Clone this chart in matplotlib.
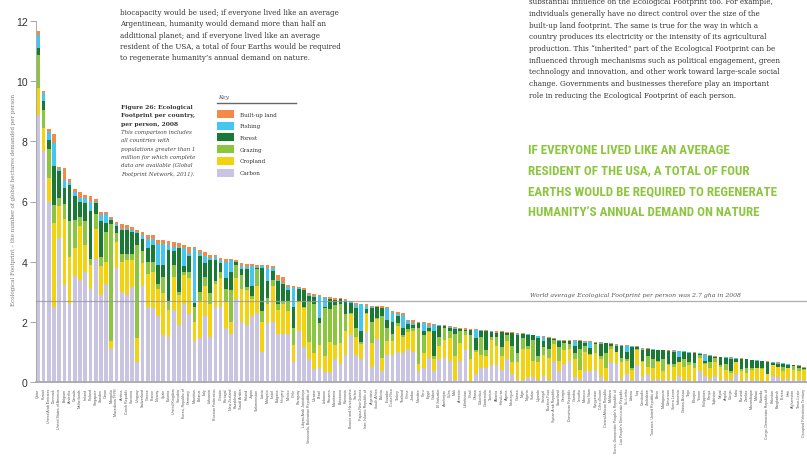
import matplotlib
matplotlib.use("Agg")
import matplotlib.pyplot as plt
import numpy as np

# Figure 26 data: Ecological Footprint per country, per person, 2008 (gha)
countries = [
    "Qatar", "Kuwait", "United Arab Emirates", "Denmark", "United States of America", "Belgium", "Australia", "Canada", "Netherlands", "Ireland",
    "Finland", "Singapore", "Sweden", "Oman", "Mongolia", "Macedonia TFYR", "Austria", "Czech Republic", "Slovenia", "Uruguay",
    "Switzerland", "Greece", "France", "Norway", "Spain", "Estonia", "United Kingdom", "Slovakia", "Korea, Republic of", "Germany",
    "Mauritius", "Belarus", "Italy", "Lithuania", "Russian Federation", "Croatia", "Portugal", "New Zealand", "Kazakhstan", "Saudi Arabia",
    "Poland", "Japan", "Turkmenistan", "Latvia", "Malaysia", "Israel", "Bulgaria", "Hungary", "Mexico", "Chile",
    "Paraguay", "Libyan Arab Jamahiriya", "Venezuela, Bolivarian Republic of", "Ukraine", "Brazil", "Lebanon", "Panama", "Mauritania", "Botswana", "Romania",
    "Bosnia and Herzegovina", "Serbia", "Papua New Guinea", "Iran, Islamic Republic of", "Argentina", "South Africa", "Bolivia", "Ecuador", "Costa Rica", "Turkey",
    "Thailand", "China", "Jordan", "Namibia", "Peru", "Egypt", "Gabon", "El Salvador", "Azerbaijan", "Cuba",
    "Mali", "Armenia", "Uzbekistan", "Chad", "Ghana", "Colombia", "Guatemala", "Tunisia", "Albania", "Honduras",
    "Algeria", "Nicaragua", "Guinea", "Niger", "Nigeria", "Sudan", "Uganda", "Senegal", "Burkina Faso", "Syrian Arab Republic",
    "Swaziland", "Georgia", "Dominican Republic", "Gambia", "Lesotho", "Morocco", "Viet Nam", "Kyrgyzstan", "Côte d'Ivoire", "Central African Republic",
    "Moldova", "Korea, Democratic People's Republic of", "Lao People's Democratic Republic", "Sri Lanka", "Liberia", "Iraq", "Cambodia", "Zimbabwe", "Tanzania, United Republic of", "Benin",
    "Madagascar", "Cameroon", "Sierra Leone", "Indonesia", "Guinea-Bissau", "Togo", "Ethiopia", "Yemen", "Philippines", "Kenya",
    "Tajikistan", "Nepal", "Angola", "Congo", "India", "Burundi", "Zambia", "Mozambique", "Malawi", "Rwanda",
    "Congo, Democratic Republic of", "Pakistan", "Bangladesh", "Eritrea", "Haiti", "Afghanistan", "Timor-Leste", "Occupied Palestinian Territory",
]

carbon = [
    8.87, 7.67, 5.99, 2.49, 4.80, 3.21, 2.60, 3.54, 3.40, 3.65,
    3.10, 4.10, 2.90, 3.25, 1.10, 3.80, 3.00, 2.90, 3.15, 0.65,
    3.20, 2.50, 2.45, 2.20, 1.55, 1.50, 2.40, 1.90, 2.60, 2.25,
    1.35, 1.45, 2.20, 1.50, 2.50, 2.50, 1.80, 1.60, 2.75, 2.00,
    1.90, 2.20, 2.30, 1.00, 1.95, 2.00, 1.60, 1.60, 1.60, 0.66,
    1.70, 1.15, 0.77, 0.43, 0.45, 0.32, 0.32, 0.77, 0.60, 0.90,
    1.55, 0.90, 0.77, 1.66, 0.50, 1.43, 0.35, 0.90, 0.90, 1.00,
    0.95, 1.10, 1.00, 0.35, 0.45, 0.80, 0.35, 0.75, 0.80, 0.70,
    0.05, 0.70, 1.05, 0.00, 0.25, 0.45, 0.45, 0.55, 0.55, 0.40,
    0.75, 0.25, 0.05, 0.05, 0.15, 0.15, 0.05, 0.20, 0.05, 0.70,
    0.35, 0.60, 0.70, 0.15, 0.10, 0.35, 0.35, 0.40, 0.15, 0.05,
    0.65, 0.60, 0.10, 0.25, 0.05, 0.55, 0.15, 0.25, 0.05, 0.10,
    0.05, 0.05, 0.05, 0.20, 0.05, 0.05, 0.02, 0.35, 0.20, 0.10,
    0.20, 0.05, 0.10, 0.05, 0.25, 0.02, 0.10, 0.05, 0.05, 0.03,
    0.01, 0.20, 0.15, 0.05, 0.10, 0.05, 0.05, 0.05,
]
cropland = [
    0.90, 0.76, 0.80, 2.80, 1.05, 2.20, 1.55, 0.90, 1.80, 0.90,
    0.80, 1.00, 0.95, 0.75, 0.25, 0.85, 1.00, 1.15, 0.90, 0.80,
    0.75, 1.10, 1.20, 0.90, 1.40, 0.90, 1.10, 1.00, 0.95, 1.20,
    0.65, 1.25, 1.00, 1.10, 0.75, 0.95, 0.85, 0.40, 0.70, 1.10,
    1.15, 0.55, 0.90, 1.00, 0.65, 1.20, 0.80, 1.00, 0.75, 0.56,
    0.95, 1.30, 0.55, 0.55, 0.78, 0.55, 1.00, 0.45, 0.70, 0.80,
    0.70, 0.60, 0.50, 0.60, 0.80, 0.65, 0.45, 0.45, 0.45, 0.85,
    0.55, 0.55, 0.70, 0.25, 0.50, 0.85, 0.40, 0.45, 0.60, 0.75,
    0.80, 0.60, 0.50, 0.75, 0.75, 0.45, 0.40, 0.85, 0.65, 0.45,
    0.60, 0.40, 0.60, 1.05, 0.95, 0.55, 0.60, 0.70, 0.75, 0.55,
    0.35, 0.45, 0.40, 0.60, 0.30, 0.65, 0.55, 0.55, 0.60, 0.40,
    0.45, 0.40, 0.55, 0.45, 0.35, 0.50, 0.50, 0.25, 0.40, 0.55,
    0.30, 0.50, 0.45, 0.45, 0.45, 0.50, 0.45, 0.45, 0.40, 0.35,
    0.45, 0.45, 0.30, 0.25, 0.40, 0.35, 0.20, 0.35, 0.40, 0.40,
    0.25, 0.35, 0.35, 0.30, 0.35, 0.35, 0.30, 0.35,
]
grazing = [
    1.10, 0.60, 0.97, 0.60, 0.25, 0.50, 1.20, 0.95, 0.30, 0.80,
    0.20, 0.50, 0.30, 1.00, 3.90, 0.30, 0.25, 0.20, 0.20, 3.10,
    0.40, 0.40, 0.35, 0.15, 0.55, 0.30, 0.40, 0.10, 0.10, 0.20,
    0.50, 0.30, 0.30, 0.35, 0.10, 0.20, 0.45, 1.05, 0.45, 0.45,
    0.10, 0.10, 0.55, 0.35, 0.20, 0.20, 0.20, 0.10, 0.35, 0.56,
    0.05, 0.05, 1.33, 1.60, 0.72, 1.58, 1.10, 1.33, 1.30, 0.55,
    0.05, 0.30, 0.05, 0.02, 0.70, 0.05, 1.40, 0.45, 0.25, 0.10,
    0.05, 0.12, 0.10, 1.20, 0.60, 0.05, 0.10, 0.30, 0.40, 0.25,
    0.75, 0.40, 0.15, 0.80, 0.05, 0.60, 0.20, 0.10, 0.30, 0.30,
    0.20, 0.55, 0.30, 0.35, 0.10, 0.70, 0.20, 0.25, 0.30, 0.15,
    0.45, 0.25, 0.15, 0.20, 0.70, 0.20, 0.02, 0.30, 0.10, 0.50,
    0.10, 0.00, 0.15, 0.05, 0.05, 0.05, 0.05, 0.35, 0.30, 0.05,
    0.40, 0.05, 0.10, 0.02, 0.25, 0.10, 0.15, 0.10, 0.02, 0.20,
    0.15, 0.05, 0.20, 0.05, 0.00, 0.05, 0.15, 0.05, 0.02, 0.05,
    0.02, 0.02, 0.00, 0.15, 0.03, 0.12, 0.10, 0.04,
]
forest = [
    0.23, 0.30, 0.30, 1.30, 0.90, 0.55, 1.20, 0.80, 0.50, 0.60,
    1.60, 0.35, 1.20, 0.30, 0.15, 0.25, 0.80, 0.80, 0.75, 0.40,
    0.40, 0.45, 0.55, 0.65, 0.40, 1.70, 0.45, 1.45, 0.20, 0.55,
    0.12, 1.20, 0.45, 1.10, 0.70, 0.30, 0.35, 0.60, 0.08, 0.20,
    0.60, 0.35, 0.05, 1.45, 0.55, 0.30, 0.75, 0.55, 0.35, 0.72,
    0.40, 0.57, 0.22, 0.25, 0.17, 0.05, 0.33, 0.17, 0.15, 0.45,
    0.33, 0.65, 0.38, 0.15, 0.45, 0.35, 0.25, 0.25, 0.40, 0.25,
    0.25, 0.15, 0.10, 0.15, 0.15, 0.08, 0.85, 0.35, 0.05, 0.10,
    0.17, 0.05, 0.02, 0.18, 0.40, 0.20, 0.65, 0.15, 0.12, 0.50,
    0.07, 0.42, 0.62, 0.15, 0.35, 0.15, 0.60, 0.20, 0.35, 0.03,
    0.22, 0.05, 0.10, 0.25, 0.25, 0.08, 0.20, 0.05, 0.40, 0.33,
    0.05, 0.20, 0.40, 0.25, 0.70, 0.05, 0.35, 0.25, 0.32, 0.35,
    0.30, 0.42, 0.40, 0.17, 0.25, 0.33, 0.35, 0.03, 0.08, 0.23,
    0.02, 0.27, 0.20, 0.40, 0.12, 0.35, 0.30, 0.27, 0.24, 0.21,
    0.39, 0.07, 0.10, 0.10, 0.10, 0.03, 0.07, 0.03,
]
fishing = [
    0.43, 0.27, 0.26, 0.74, 0.09, 0.24, 0.10, 0.12, 0.10, 0.15,
    0.30, 0.05, 0.20, 0.28, 0.02, 0.05, 0.05, 0.05, 0.06, 0.03,
    0.12, 0.30, 0.20, 0.70, 0.70, 0.15, 0.15, 0.05, 0.60, 0.10,
    1.85, 0.10, 0.25, 0.07, 0.12, 0.10, 0.55, 0.40, 0.02, 0.10,
    0.08, 0.65, 0.02, 0.05, 0.45, 0.10, 0.05, 0.05, 0.10, 0.61,
    0.02, 0.00, 0.03, 0.02, 0.75, 0.30, 0.02, 0.02, 0.01, 0.02,
    0.02, 0.12, 0.88, 0.10, 0.05, 0.02, 0.01, 0.40, 0.30, 0.05,
    0.42, 0.10, 0.05, 0.01, 0.27, 0.07, 0.20, 0.03, 0.01, 0.04,
    0.02, 0.01, 0.01, 0.01, 0.28, 0.02, 0.01, 0.03, 0.02, 0.01,
    0.01, 0.02, 0.02, 0.00, 0.03, 0.00, 0.07, 0.15, 0.01, 0.01,
    0.01, 0.02, 0.02, 0.16, 0.00, 0.05, 0.20, 0.00, 0.05, 0.00,
    0.01, 0.04, 0.02, 0.21, 0.04, 0.01, 0.06, 0.00, 0.02, 0.02,
    0.02, 0.02, 0.04, 0.18, 0.02, 0.02, 0.00, 0.02, 0.21, 0.02,
    0.00, 0.00, 0.02, 0.05, 0.02, 0.01, 0.01, 0.01, 0.01, 0.01,
    0.01, 0.02, 0.04, 0.02, 0.01, 0.00, 0.02, 0.01,
]
builtup = [
    0.14, 0.07, 0.08, 0.30, 0.07, 0.40, 0.10, 0.09, 0.20, 0.10,
    0.18, 0.08, 0.11, 0.08, 0.08, 0.08, 0.14, 0.12, 0.10, 0.07,
    0.12, 0.13, 0.13, 0.12, 0.11, 0.14, 0.16, 0.12, 0.11, 0.20,
    0.03, 0.10, 0.13, 0.10, 0.05, 0.07, 0.10, 0.05, 0.05, 0.10,
    0.10, 0.08, 0.08, 0.05, 0.08, 0.06, 0.15, 0.20, 0.07, 0.09,
    0.05, 0.05, 0.07, 0.08, 0.03, 0.04, 0.04, 0.05, 0.03, 0.05,
    0.05, 0.06, 0.02, 0.05, 0.04, 0.04, 0.06, 0.03, 0.07, 0.07,
    0.07, 0.05, 0.11, 0.05, 0.04, 0.12, 0.03, 0.03, 0.04, 0.03,
    0.03, 0.05, 0.06, 0.03, 0.03, 0.02, 0.02, 0.03, 0.05, 0.02,
    0.03, 0.02, 0.03, 0.02, 0.02, 0.02, 0.02, 0.02, 0.02, 0.02,
    0.03, 0.03, 0.01, 0.02, 0.03, 0.03, 0.03, 0.02, 0.02, 0.02,
    0.02, 0.02, 0.02, 0.02, 0.02, 0.03, 0.02, 0.02, 0.01, 0.01,
    0.01, 0.02, 0.02, 0.02, 0.01, 0.01, 0.02, 0.02, 0.02, 0.01,
    0.04, 0.02, 0.01, 0.02, 0.02, 0.01, 0.01, 0.01, 0.01, 0.01,
    0.01, 0.02, 0.02, 0.01, 0.01, 0.02, 0.01, 0.01,
]

world_average = 2.7

series = [
    ("Carbon", carbon, "#c8c4e2"),
    ("Cropland", cropland, "#f3d210"),
    ("Grazing", grazing, "#8cc63f"),
    ("Forest", forest, "#1a7a35"),
    ("Fishing", fishing, "#45c6f0"),
    ("Built-up land", builtup, "#f48a4a"),
]

W, H = 807, 477
fig = plt.figure(figsize=(W / 100, H / 100), dpi=100)
ax = fig.add_axes([36 / W, 94 / H, 771 / W, 361 / H])

x = np.arange(len(countries))
bottom = np.zeros(len(countries))
for name, vals, col in series:
    v = np.array(vals)
    ax.bar(x, v, width=0.72, bottom=bottom, color=col, linewidth=0, zorder=2)
    bottom += v

ax.axhline(world_average, color="#9a9a9a", lw=0.9, alpha=0.8, zorder=3)

ax.set_ylim(0, 12)
ax.set_xlim(-0.45, 147.6)
ax.set_yticks([0, 2, 4, 6, 8, 10, 12])
ax.tick_params(axis="y", direction="out", length=4, width=0.6, color="#999999",
               labelsize=7.5, labelcolor="#333333", pad=2)
ax.set_xticks(x)
ax.set_xticklabels(countries, rotation=90, fontsize=2.6, color="#555555",
                   family="Liberation Sans")
ax.tick_params(axis="x", length=0, pad=4)
for lab in ax.get_yticklabels():
    lab.set_family("Liberation Sans")

for s in ["top", "right"]:
    ax.spines[s].set_visible(False)
ax.spines["left"].set_color("#aaaaaa")
ax.spines["left"].set_linewidth(0.7)
ax.spines["bottom"].set_color("#a8a8a8")
ax.spines["bottom"].set_linewidth(1.3)

fig.text(14 / W, 1 - 200 / H,
         "Ecological Footprint \u2013 the number of global hectares demanded per person",
         rotation=90, ha="center", va="center", fontsize=4.1, color="#777777",
         family="DejaVu Serif")

ax.text(0.641, 2.83, "World average Ecological Footprint per person was 2.7 gha in 2008",
        transform=ax.get_yaxis_transform(), fontsize=4.4, style="italic",
        color="#555555", family="DejaVu Serif", va="bottom")


def px(xp, yp):
    return xp / W, 1 - yp / H


# body text
left_par = [
    "biocapacity would be used; if everyone lived like an average",
    "Argentinean, humanity would demand more than half an",
    "additional planet; and if everyone lived like an average",
    "resident of the USA, a total of four Earths would be required",
    "to regenerate humanity\u2019s annual demand on nature.",
]
for k, line in enumerate(left_par):
    fig.text(*px(120, 13 + 11.3 * k), line, fontsize=5.15, color="#333333",
             family="DejaVu Serif", va="center")

right_par = [
    "substantial influence on the Ecological Footprint too. For example,",
    "individuals generally have no direct control over the size of the",
    "built-up land footprint. The same is true for the way in which a",
    "country produces its electricity or the intensity of its agricultural",
    "production. This \u201cinherited\u201d part of the Ecological Footprint can be",
    "influenced through mechanisms such as political engagement, green",
    "technology and innovation, and other work toward large-scale social",
    "change. Governments and businesses therefore play an important",
    "role in reducing the Ecological Footprint of each person.",
]
for k, line in enumerate(right_par):
    fig.text(*px(529, 2.5 + 11.65 * k), line, fontsize=5.2, color="#333333",
             family="DejaVu Serif", va="center")

# green pull-quote, sized so the longest line spans the same width as in the page
headline = [
    "IF EVERYONE LIVED LIKE AN AVERAGE",
    "RESIDENT OF THE USA, A TOTAL OF FOUR",
    "EARTHS WOULD BE REQUIRED TO REGENERATE",
    "HUMANITY\u2019S ANNUAL DEMAND ON NATURE",
]
head_texts = []
for k, line in enumerate(headline):
    t = fig.text(*px(528, 153.5 + 21 * k), line, fontsize=12, color="#8cc63e",
                 family=["Roboto Condensed", "Noto Sans", "DejaVu Sans"],
                 fontstretch="condensed", weight="bold", va="baseline")
    head_texts.append(t)
renderer = fig.canvas.get_renderer()
wid = head_texts[2].get_window_extent(renderer).width
for t in head_texts:
    t.set_fontsize(12 * 249 / wid)

# figure caption
cap_bold = ["Figure 26: Ecological", "Footprint per country,", "per person, 2008"]
cap_it = ["This comparison includes", "all countries with",
          "populations greater than 1", "million for which complete",
          "data are available (Global", "Footprint Network, 2011)."]
for k, line in enumerate(cap_bold):
    fig.text(*px(121, 107.5 + 8.3 * k), line, fontsize=4.3, weight="bold",
             color="#333333", family="DejaVu Serif", va="center")
for k, line in enumerate(cap_it):
    fig.text(*px(121, 132.5 + 8.3 * k), line, fontsize=4.0, style="italic",
             color="#444444", family="DejaVu Serif", va="center")

# key
fig.text(*px(218, 97), "Key", fontsize=4.2, style="italic", color="#555555",
         family="DejaVu Serif", va="center")
fig.add_artist(plt.Line2D([217 / W, 296 / W], [1 - 104 / H, 1 - 104 / H],
                          color="#666666", lw=1.0))
for k, (name, vals, col) in enumerate(reversed(series)):
    yc = 115 + 11.7 * k
    fig.add_artist(plt.Rectangle((217 / W, 1 - (yc + 4) / H), 17 / W, 8 / H,
                                 color=col, lw=0))
    fig.text(*px(240, yc), name, fontsize=4.1, color="#333333",
             family="DejaVu Serif", va="center")

fig.savefig("out.png", dpi=100)
